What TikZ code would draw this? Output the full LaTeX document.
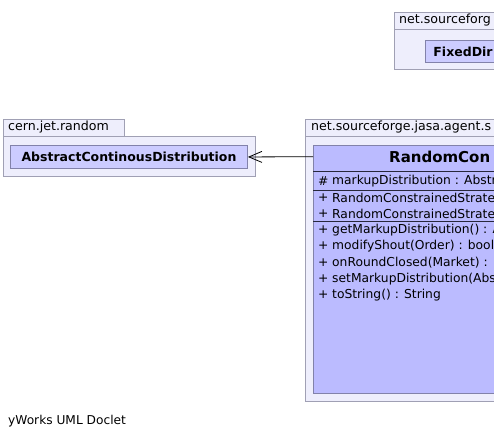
\documentclass[tikz,border=0pt]{standalone}
\usepackage{fontspec}
\setmainfont{DejaVu Sans}
\usetikzlibrary{arrows.meta}
\usepackage{xcolor}
\definecolor{pkgfill}{RGB}{238,238,252}
\definecolor{pkgline}{RGB}{160,160,180}
\definecolor{clsfill}{RGB}{187,187,255}
\definecolor{clsline}{RGB}{130,130,170}
\definecolor{sepline}{RGB}{40,40,60}
\definecolor{reffill}{RGB}{204,204,255}

\begin{document}
\begin{tikzpicture}[x=1pt,y=-1pt]
	\tikzset{pkg/.style = {draw=pkgline,fill=pkgfill,line width=0.9pt}}
	\tikzset{pkgname/.style = {anchor=west,inner sep=0pt,font=\fontsize{12.6}{14}\selectfont}}
	\tikzset{refcls/.style = {draw=clsline,fill=reffill,line width=0.9pt,
			font=\fontsize{12.5}{15}\bfseries,inner sep=0pt}}
	\tikzset{cls/.style = {draw=clsline,fill=clsfill,line width=0.9pt}}
	\tikzset{sep/.style = {draw=sepline,line width=0.9pt}}
	\tikzset{member/.style = {anchor=west,inner sep=0pt,font=\fontsize{12.3}{14}\selectfont}}
	\tikzset{dep/.style = {-{Straight Barb[length=13pt,width=11pt]},line width=0.8pt}}
	\useasboundingbox (0,0) rectangle (494,439);
	\clip (0,0) rectangle (494,439);
    % packages
	\draw[pkg] (394,12) rectangle (540,29);
	\draw[pkg] (394,29) rectangle (540,69);
	\node[pkgname] (pkgtop) at (399,20) {net.sourceforg};
	\draw[pkg] (3,119) rectangle (124,136);
	\draw[pkg] (3,136) rectangle (255,176);
	\node[pkgname] (pkgcern) at (8,127.5) {cern.jet.random};
	\draw[pkg] (305,119) rectangle (540,136);
	\draw[pkg] (305,136) rectangle (540,401);
	\node[pkgname] (pkgjasa) at (311,127.5) {net.sourceforge.jasa.agent.s};
    % classes
	\node[refcls,anchor=north west,minimum width=237pt,minimum height=23pt]
		(acd) at (10,145) {AbstractContinousDistribution};
	\node[refcls,anchor=north west,minimum height=22pt,text width=120pt,
		inner xsep=8pt,align=left] (fds) at (425,40) {FixedDir};
	\draw[cls] (313,145) rectangle (540,393);
	\node[anchor=north west,minimum height=23pt,text width=150pt,inner xsep=76pt,
		inner ysep=0pt,align=left,font=\fontsize{15}{17}\bfseries] (rcshead) at (313,145) {RandomCon};
	\draw[sep] (313,171) -- (540,171);
	\draw[sep] (313,190) -- (540,190);
	\draw[sep] (313,221) -- (540,221);
	\foreach \y/\s/\t in {181/\#/markupDistribution : Abstr,
			198/+/RandomConstrainedStrate,
			214/+/RandomConstrainedStrate,
			230/+/getMarkupDistribution() : A,
			246/+/modifyShout(Order) : bool,
			263/+/onRoundClosed(Market) :,
			279/+/setMarkupDistribution(Abs,
			295/+/toString() : String}
	{
		\node[member] at (318,\y) {\s};
		\node[member] at (332,\y) {\t};
	}
    %edges
	\draw[dep] (rcshead.west) -- (acd.east);
	\node[anchor=west,inner sep=0pt,font=\fontsize{12.2}{14}\selectfont] (credit) at (8,421) {yWorks UML Doclet};
\end{tikzpicture}
\end{document}
